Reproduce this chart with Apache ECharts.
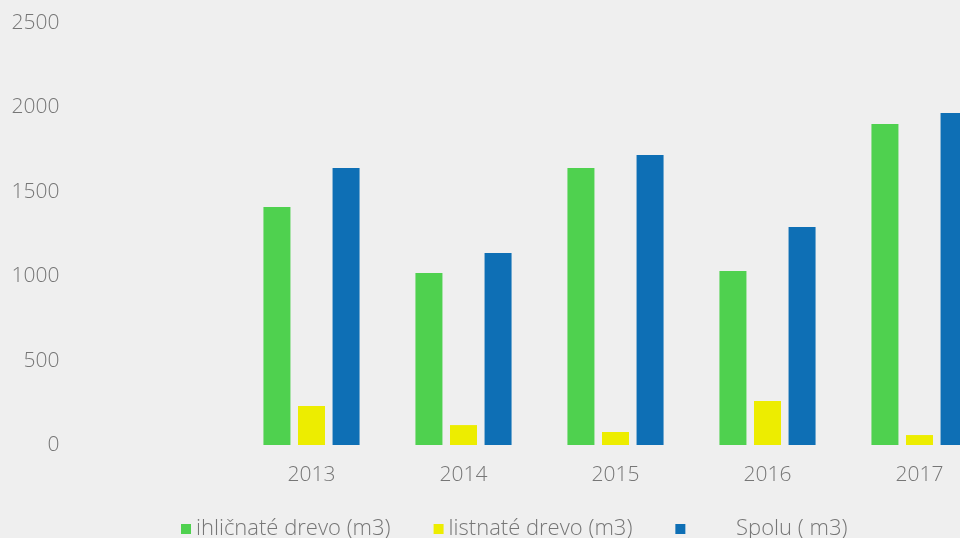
<!DOCTYPE html>
<html><head><meta charset="utf-8">
<script src="https://cdn.jsdelivr.net/npm/echarts@6/dist/echarts.min.js"></script>
<style>html,body{margin:0;padding:0;background:#efefef;}#c{width:960px;height:538px;}</style>
</head><body><div id="c"></div>
<script>
const categories = ['2013','2014','2015','2016','2017'];
const ihlicnate = [1410, 1019, 1641, 1031, 1902];
const listnate = [231, 118, 77, 261, 59];
const spolu = [1641, 1137, 1718, 1291, 1967];
const yTicks = [0, 500, 1000, 1500, 2000, 2500];
const seriesNames = ['ihličnaté drevo (m3)', 'listnaté drevo (m3)', '        Spolu ( m3)'];

const chart = echarts.init(document.getElementById('c'));
const txt = '#767676';
const font = 'Open Sans';
chart.setOption({
  backgroundColor: '#efefef',
  animation: false,
  grid: {left: 235.5, right: -35.5, top: 23, bottom: 93, containLabel: false, outerBoundsMode: 'none'},
  legend: {
    left: 176, top: 513, itemWidth: 10, itemHeight: 10, itemGap: 43, icon: 'rect',
    textStyle: {color: txt, fontFamily: font, fontSize: 22, fontWeight: 300},
    data: seriesNames
  },
  xAxis: {
    type: 'category', data: categories,
    axisLine: {show: false}, axisTick: {show: false},
    axisLabel: {color: txt, fontFamily: font, fontSize: 21, fontWeight: 300, margin: 20}
  },
  yAxis: {
    type: 'value', min: yTicks[0], max: yTicks[yTicks.length-1], interval: 500,
    splitLine: {show: false}, axisLine: {show: false}, axisTick: {show: false},
    axisLabel: {color: txt, fontFamily: font, fontSize: 21, fontWeight: 300, margin: 176, formatter: v => String(v)}
  },
  series: [
    {name: seriesNames[0], type: 'bar', data: ihlicnate, barWidth: 27, barGap: '28%', itemStyle: {color: '#4fd14f'}},
    {name: seriesNames[1], type: 'bar', data: listnate, barWidth: 27, barGap: '28%', itemStyle: {color: '#eded00'}},
    {name: seriesNames[2], type: 'bar', data: spolu, barWidth: 27, barGap: '28%', itemStyle: {color: '#0e6fb5'}}
  ]
});
</script></body></html>
